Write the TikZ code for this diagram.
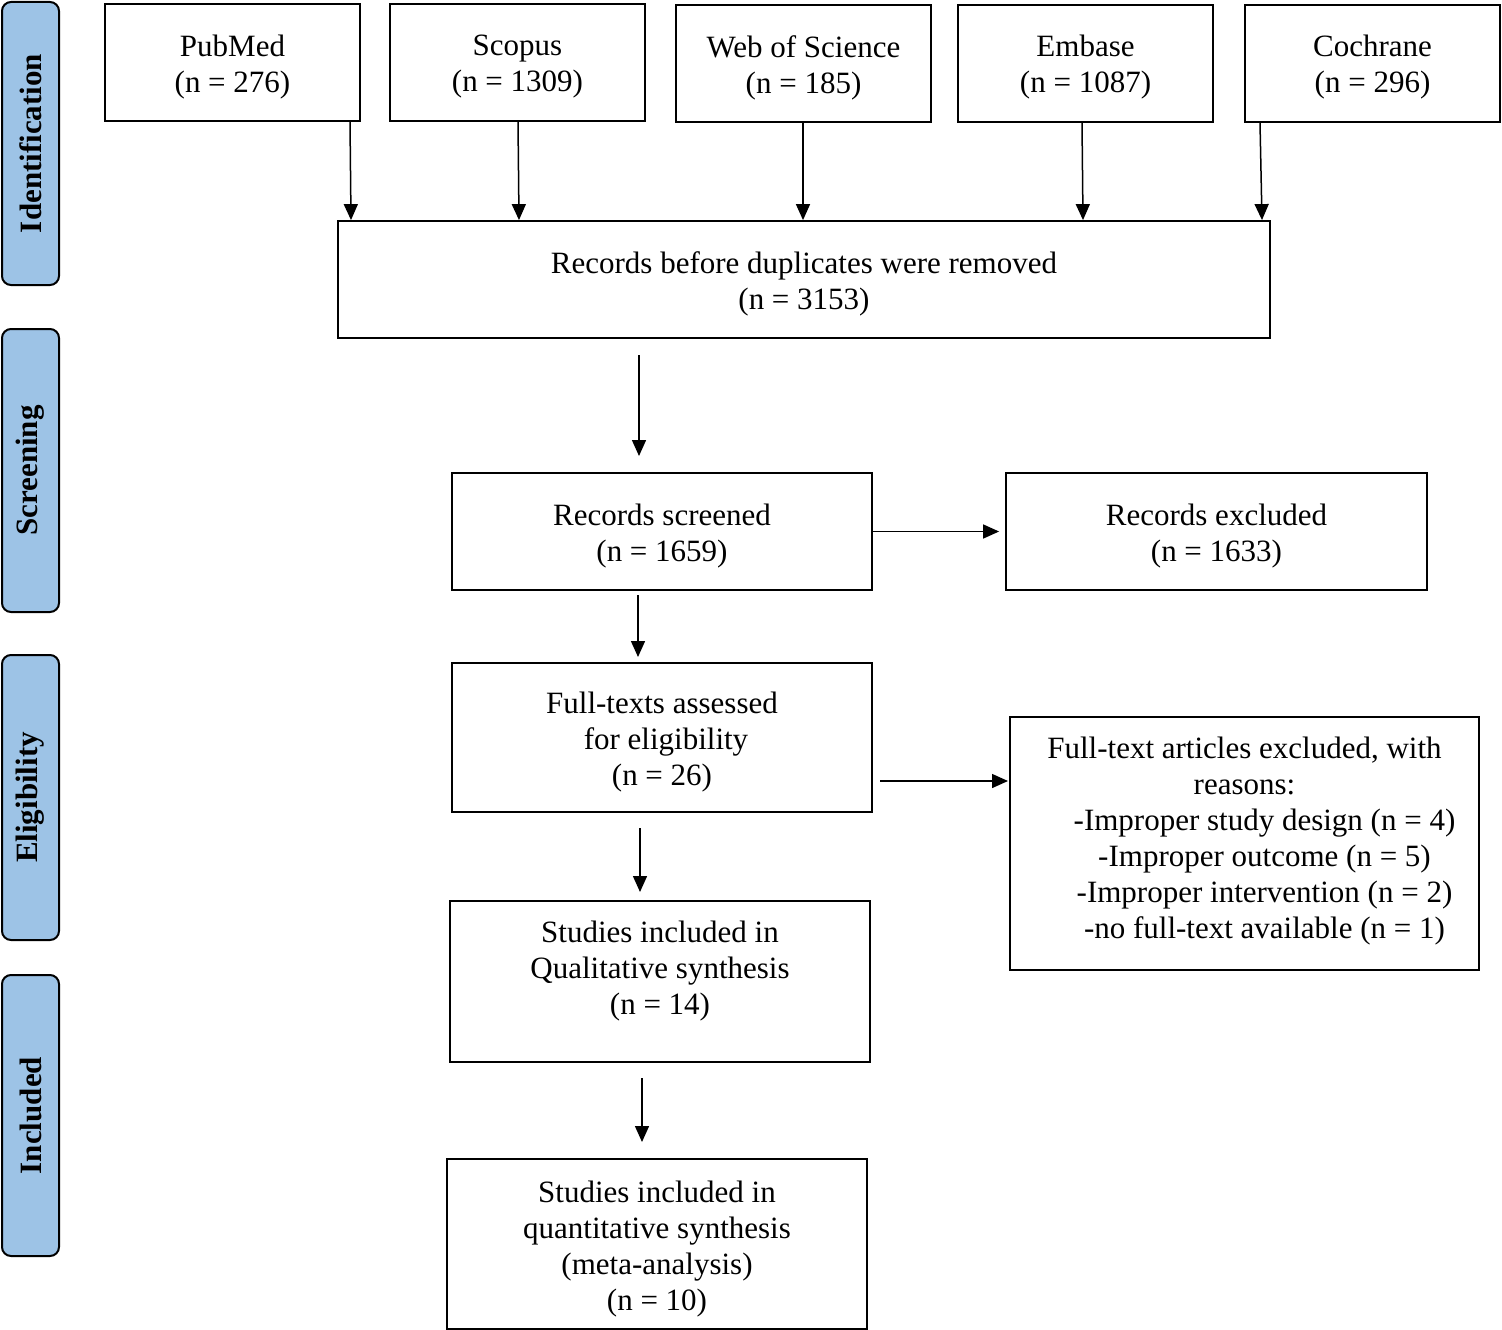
\documentclass[tikz,border=0pt]{standalone}
\usepackage{fontspec}
\setmainfont{Liberation Serif}
\usetikzlibrary{arrows.meta}
\definecolor{barblue}{RGB}{157,195,230}
\begin{document}
\begin{tikzpicture}[x=1pt,y=-1pt,
  box/.style={draw=black,line width=1.8pt,fill=white,inner sep=0pt},
  txt/.style={inner sep=0pt,align=center,font=\fontsize{31}{36}\selectfont},
  phase/.style={draw=black,line width=2pt,fill=barblue,rounded corners=9pt,inner sep=0pt,
    minimum width=57pt},
  phasetxt/.style={rotate=90,inner sep=0pt,font=\fontsize{31}{36}\selectfont\bfseries},
  arr/.style={line width=1.5pt,-{Triangle[length=16pt,width=14pt]}},
]
\useasboundingbox (0,0) rectangle (1502,1330);

% phase bars
\node[phase,minimum height=283pt] (pid) at (30.5,143.5) {};
\node[phasetxt] (tid) at (pid.center) {Identification};
\node[phase,minimum height=283pt] (psc) at (30.5,470.5) {};
\node[phasetxt] (tsc) at (psc.center) {Screening};
\node[phase,minimum height=285pt] (pel) at (30.5,797.5) {};
\node[phasetxt] (tel) at (pel.center) {Eligibility};
\node[phase,minimum height=281pt] (pin) at (30.5,1115.5) {};
\node[phasetxt] (tin) at (pin.center) {Included};

% source boxes
\node[box,minimum width=255pt,minimum height=117pt] (pub) at (232.5,62.5) {};
\node[txt] (pubt) at ([yshift=-4.5pt]pub.center) {PubMed\\(n = 276)};
\node[box,minimum width=255pt,minimum height=117pt] (sco) at (517.5,62.5) {};
\node[txt] (scot) at ([yshift=-4.5pt]sco.center) {Scopus\\(n = 1309)};
\node[box,minimum width=255pt,minimum height=117pt] (wos) at (803.5,63.5) {};
\node[txt] (wost) at ([yshift=-4.5pt]wos.center) {Web of Science\\(n = 185)};
\node[box,minimum width=255pt,minimum height=117pt] (emb) at (1085.5,63.5) {};
\node[txt] (embt) at ([yshift=-3.5pt]emb.center) {Embase\\(n = 1087)};
\node[box,minimum width=255pt,minimum height=117pt] (coc) at (1372.5,63.5) {};
\node[txt] (coct) at ([yshift=-3.5pt]coc.center) {Cochrane\\(n = 296)};

\node[box,minimum width=932pt,minimum height=117pt] (rec) at (804,279.5) {};
\node[txt] (rect) at ([yshift=-4pt]rec.center) {Records before duplicates were removed\\(n = 3153)};

\node[box,minimum width=420pt,minimum height=117pt] (scr) at (662,531.5) {};
\node[txt] (scrt) at ([yshift=-5pt]scr.center) {Records screened\\(n = 1659)};
\node[box,minimum width=421pt,minimum height=117pt] (exc) at (1216.5,531.5) {};
\node[txt] (exct) at ([yshift=-5pt]exc.center) {Records excluded\\(n = 1633)};

\node[box,minimum width=420pt,minimum height=149pt] (ft) at (662,737.5) {};
\node[txt] (ftt) at ([yshift=-5pt]ft.center) {Full-texts assessed\\\hspace*{8pt}for eligibility\\(n = 26)};

\node[box,minimum width=469pt,minimum height=253pt] (ftx) at (1244.5,843.5) {};
\node[txt] (ftxt) at (1244.5,841) {Full-text articles excluded, with\\reasons:\\
\hspace*{40pt}-Improper study design (n = 4)\\
\hspace*{40pt}-Improper outcome (n = 5)\\
\hspace*{40pt}-Improper intervention (n = 2)\\
\hspace*{40pt}-no full-text available (n = 1)};

\node[box,minimum width=420pt,minimum height=161pt] (qual) at (660,981.5) {};
\node[txt] (qualt) at (660,971) {Studies included in\\Qualitative synthesis\\(n = 14)};

\node[box,minimum width=420pt,minimum height=170pt] (quan) at (657,1244) {};
\node[txt] (quant) at ([yshift=-5pt]quan.center) {Studies included in\\quantitative synthesis\\(meta-analysis)\\(n = 10)};

% free arrow ends
\coordinate (m1) at (639,355);
\coordinate (m2) at (639,456);
\coordinate (s1) at (638,595);
\coordinate (s2) at (638,657);
\coordinate (f1) at (880,781);
\coordinate (f2) at (1008,781);
\coordinate (q1) at (640,828);
\coordinate (q2) at (640,892);
\coordinate (n1) at (642,1078);
\coordinate (n2) at (642,1142);

% arrows
\draw[arr] ([xshift=117.5pt]pub.south) -- ([xshift=-453pt]rec.north);
\draw[arr] ([xshift=0.5pt]sco.south) -- ([xshift=-285pt]rec.north);
\draw[arr] ([xshift=-0.5pt]wos.south) -- ([xshift=-1pt]rec.north);
\draw[arr] ([xshift=-3.5pt]emb.south) -- ([xshift=279pt]rec.north);
\draw[arr] ([xshift=-112.5pt]coc.south) -- ([xshift=458pt]rec.north);
\draw[arr] (m1) -- (m2);
\draw[arr] (scr.east) -- ([xshift=-6pt]exc.west);
\draw[arr] (s1) -- (s2);
\draw[arr] (f1) -- (f2);
\draw[arr] (q1) -- (q2);
\draw[arr] (n1) -- (n2);
\end{tikzpicture}
\end{document}
